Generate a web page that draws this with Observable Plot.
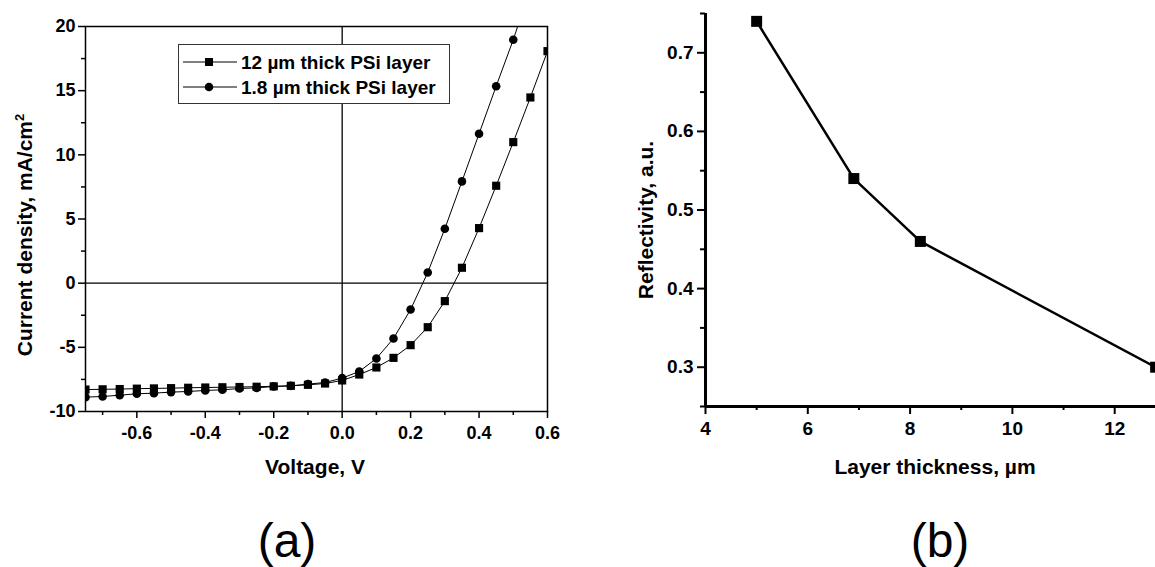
<!DOCTYPE html>
<html>
<head>
<meta charset="utf-8">
<script src="https://cdn.jsdelivr.net/npm/d3@7"></script>
<script src="https://cdn.jsdelivr.net/npm/@observablehq/plot@0.6"></script>
<style>
  html, body { margin: 0; padding: 0; background: #fff; overflow: hidden; }
  #root { position: relative; width: 1155px; height: 567px; overflow: hidden; background: #fff; }
  #root > * { position: absolute; top: 0; }
</style>
</head>
<body>
<div id="root"></div>
<script>
// ---------- Panel (a): J–V curves ----------
const voltage = [-0.75,-0.70,-0.65,-0.60,-0.55,-0.50,-0.45,-0.40,-0.35,-0.30,-0.25,-0.20,-0.15,-0.10,-0.05,
                 0.00,0.05,0.10,0.15,0.20,0.25,0.30,0.35,0.40,0.45,0.50,0.55,0.60];
const current12um = [-8.29,-8.27,-8.25,-8.22,-8.20,-8.18,-8.15,-8.13,-8.11,-8.09,-8.07,-8.04,-8.00,-7.92,-7.82,
                     -7.58,-7.12,-6.57,-5.82,-4.83,-3.43,-1.40,1.20,4.29,7.59,10.99,14.47,18.08];
const current18um = [-8.88,-8.83,-8.73,-8.62,-8.57,-8.49,-8.44,-8.36,-8.31,-8.21,-8.16,-8.05,-8.00,-7.87,-7.74,
                     -7.40,-6.88,-5.87,-4.31,-2.05,0.83,4.24,7.93,11.64,15.35,18.97,23.0];
const seriesNames = ["12 \u00b5m thick PSi layer", "1.8 \u00b5m thick PSi layer"];
const voltageTicks = [-0.6,-0.4,-0.2,0.0,0.2,0.4,0.6];
const voltageMinorTicks = [-0.7,-0.5,-0.3,-0.1,0.1,0.3,0.5];
const currentTicks = [-10,-5,0,5,10,15,20];
const currentMinorTicks = [-7.5,-2.5,2.5,7.5,12.5,17.5];

// ---------- Panel (b): reflectivity ----------
const thickness = [5.0, 6.9, 8.2, 12.8];
const reflectivity = [0.74, 0.54, 0.46, 0.30];
const thicknessTicks = [4,6,8,10,12];
const thicknessMinorTicks = [5,7,9,11];
const reflTicks = [0.3,0.4,0.5,0.6,0.7];
const reflMinorTicks = [0.25,0.35,0.45,0.55,0.65,0.75];

const FONT = "'Liberation Sans', Arial, Helvetica, sans-serif";
const root = document.getElementById("root");

const s12 = current12um.map((j, i) => ({v: voltage[i], j}));
const s18 = current18um.map((j, i) => ({v: voltage[i], j}));

const plotA = Plot.plot({
  width: 560, height: 480,
  marginLeft: 85, marginRight: 13, marginTop: 26, marginBottom: 69,
  x: {domain: [-0.75, 0.6], label: null},
  y: {domain: [-10, 20], label: null},
  style: {fontFamily: FONT, fontSize: "18px", fontWeight: "bold", color: "#000", background: "transparent", overflow: "visible"},
  marks: [
    Plot.ruleX([0], {stroke: "#000", strokeWidth: 1.3}),
    Plot.ruleY([0], {stroke: "#000", strokeWidth: 1.3}),
    Plot.line(s12, {x: "v", y: "j", stroke: "#000", strokeWidth: 1, clip: true}),
    Plot.line(s18, {x: "v", y: "j", stroke: "#000", strokeWidth: 1, clip: true}),
    Plot.dot(s12, {x: "v", y: "j", symbol: "square", r: 4.6, fill: "#000", clip: true}),
    Plot.dot(s18, {x: "v", y: "j", symbol: "circle", r: 4.3, fill: "#000", clip: true}),
    Plot.frame({stroke: "#000", strokeWidth: 1.5}),
    Plot.axisX(voltageTicks, {tickSize: 7, tickPadding: 8, strokeWidth: 1.5, label: null, tickFormat: d => d.toFixed(1)}),
    Plot.axisX(voltageMinorTicks, {tickSize: 4, strokeWidth: 1.5, label: null, tickFormat: () => ""}),
    Plot.axisY(currentTicks, {tickSize: 7, tickPadding: 3, strokeWidth: 1.5, label: null, tickFormat: d => String(d)}),
    Plot.axisY(currentMinorTicks, {tickSize: 4, strokeWidth: 1.5, label: null, tickFormat: () => ""})
  ]
});
plotA.style.left = "0px";
d3.select(plotA).selectAll("text")
  .style("font-weight", "bold").style("font-size", "18px").style("font-family", FONT).attr("fill", "#000");
root.appendChild(plotA);

const refl = thickness.map((t, i) => ({t, r: reflectivity[i]}));
const plotB = Plot.plot({
  width: 600, height: 480,
  marginLeft: 75, marginRight: 13.5, marginTop: 13, marginBottom: 74,
  x: {domain: [4, 14], label: null},
  y: {domain: [0.25, 0.75], label: null},
  style: {fontFamily: FONT, fontSize: "19px", fontWeight: "bold", color: "#000", background: "transparent", overflow: "visible"},
  marks: [
    Plot.line(refl, {x: "t", y: "r", stroke: "#000", strokeWidth: 2.5}),
    Plot.dot(refl, {x: "t", y: "r", symbol: "square", r: 6.2, fill: "#000"}),
    Plot.ruleX([4], {stroke: "#000", strokeWidth: 3}),
    Plot.ruleY([0.25], {stroke: "#000", strokeWidth: 3}),
    Plot.axisX(thicknessTicks, {tickSize: 8, tickPadding: 7, strokeWidth: 2, label: null, tickFormat: d => String(d)}),
    Plot.axisX(thicknessMinorTicks, {tickSize: 4, strokeWidth: 2, label: null, tickFormat: () => ""}),
    Plot.axisY(reflTicks, {tickSize: 8, tickPadding: 4, strokeWidth: 2, label: null, tickFormat: d => d.toFixed(1)}),
    Plot.axisY(reflMinorTicks, {tickSize: 5, strokeWidth: 2, label: null, tickFormat: () => ""})
  ]
});
plotB.style.left = "630px";
d3.select(plotB).selectAll("text")
  .style("font-weight", "bold").style("font-size", "19px").style("font-family", FONT).attr("fill", "#000");
root.appendChild(plotB);

// ---------- Overlay: axis titles, legend, panel letters ----------
const svg = d3.create("svg")
  .attr("width", 1155).attr("height", 567)
  .style("left", "0px").style("pointer-events", "none")
  .style("font-family", FONT);

const bold = {"font-weight": "bold", "font-size": "21px", "text-anchor": "middle", fill: "#000"};
function txt(parent, attrs, content) {
  const t = parent.append("text");
  for (const [k, v] of Object.entries(attrs)) t.attr(k, v);
  if (content !== undefined) t.text(content);
  return t;
}
txt(svg, {...bold, x: 315, y: 474}, "Voltage, V");
txt(svg, {...bold, x: 935, y: 474}, "Layer thickness, \u00b5m");

const yl = txt(svg, {...bold, transform: "translate(32,235) rotate(-90)"});
yl.append("tspan").text("Current density, mA/cm");
yl.append("tspan").attr("dy", -8).attr("font-size", "13px").text("2");

txt(svg, {...bold, transform: "translate(653,220) rotate(-90)"}, "Reflectivity, a.u.");

txt(svg, {x: 287, y: 557, "font-size": "48px", "text-anchor": "middle", fill: "#000"}, "(a)");
txt(svg, {x: 940, y: 557, "font-size": "48px", "text-anchor": "middle", fill: "#000"}, "(b)");

// Legend
const lg = svg.append("g");
lg.append("rect").attr("x", 178.5).attr("y", 44.5).attr("width", 271).attr("height", 59)
  .attr("fill", "#fff").attr("stroke", "#333").attr("stroke-width", 1);
const rows = [{y: 62, sym: "square"}, {y: 87, sym: "circle"}];
rows.forEach((row, i) => {
  lg.append("line").attr("x1", 183).attr("x2", 237).attr("y1", row.y).attr("y2", row.y)
    .attr("stroke", "#000").attr("stroke-width", 1);
  if (row.sym === "square") {
    lg.append("rect").attr("x", 205).attr("y", row.y - 4).attr("width", 8).attr("height", 8).attr("fill", "#000");
  } else {
    lg.append("circle").attr("cx", 209).attr("cy", row.y).attr("r", 4.3).attr("fill", "#000");
  }
  txt(lg, {x: 241, y: row.y + 7, "font-size": "19px", "font-weight": "bold", fill: "#000"}, seriesNames[i]);
});

root.appendChild(svg.node());
</script>
</body>
</html>
